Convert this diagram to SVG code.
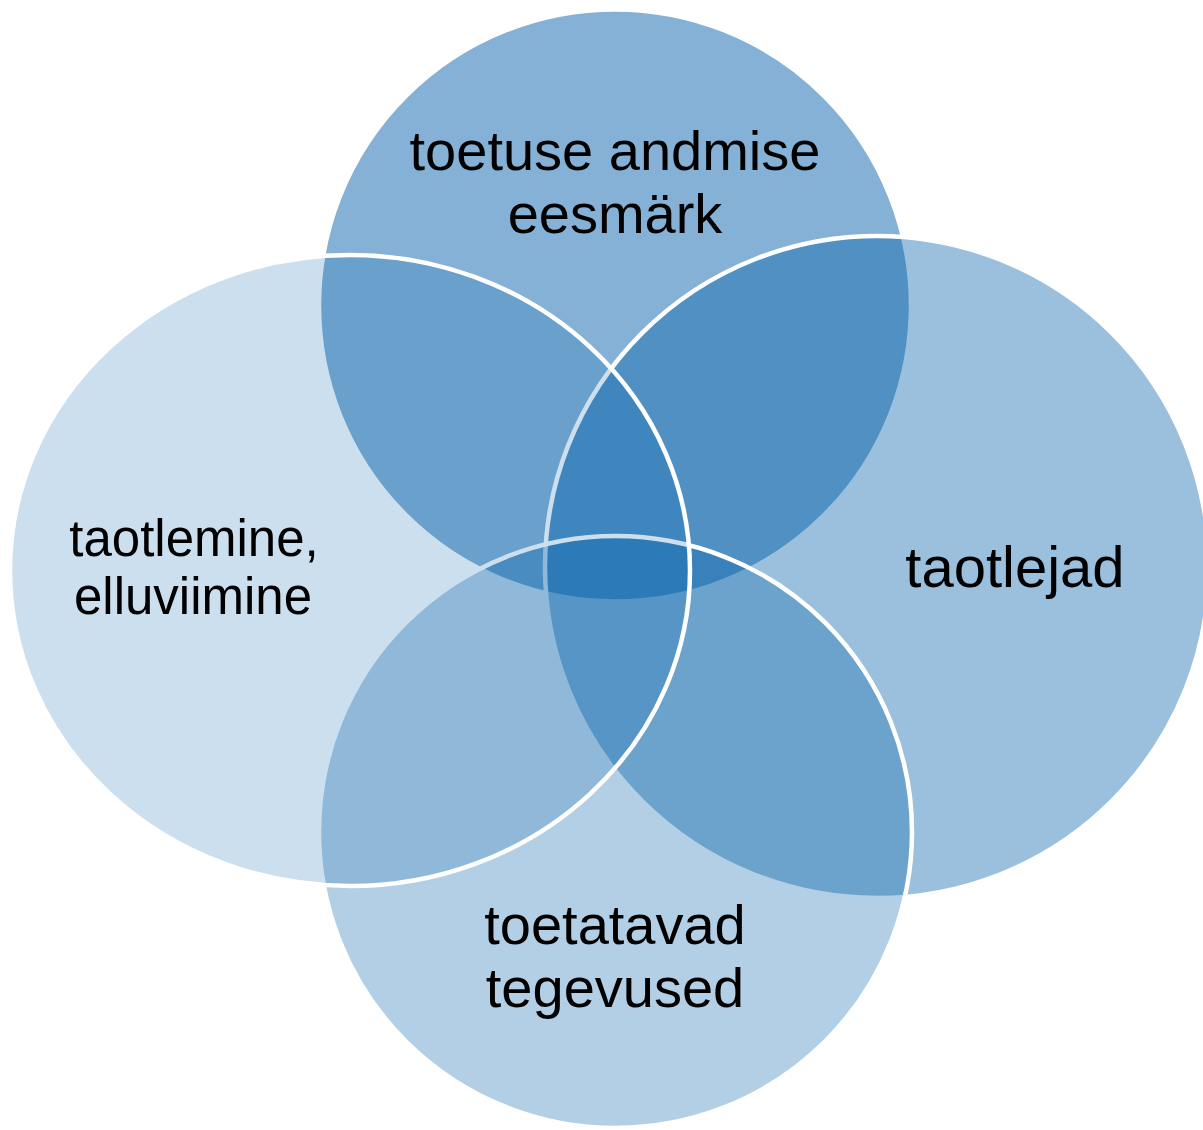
<svg xmlns="http://www.w3.org/2000/svg" width="1203" height="1130" viewBox="0 0 1203 1130">
<style>
.shape{stroke:#ffffff;stroke-width:4.5}
.lbl{font-family:"Liberation Sans",Arial,sans-serif;fill:#000000;text-anchor:middle}
</style>
<rect x="0" y="0" width="1203" height="1130" fill="#ffffff"/>
<g id="connectors"></g>
<g id="node-top">
<ellipse class="shape" cx="615" cy="305.5" rx="296" ry="296" fill="rgb(0,94,168)" fill-opacity="0.482"/>
<text class="lbl" font-size="56" x="615" y="170">toetuse andmise</text>
<text class="lbl" font-size="56" x="615" y="233">eesmärk</text>
</g>
<g id="node-right">
<ellipse class="shape" cx="877" cy="567" rx="332" ry="331" fill="rgb(0,94,168)" fill-opacity="0.392"/>
<text class="lbl" font-size="58" x="1015" y="587">taotlejad</text>
</g>
<g id="node-bottom">
<ellipse class="shape" cx="615.5" cy="832" rx="296.5" ry="296" fill="rgb(0,94,168)" fill-opacity="0.298"/>
<text class="lbl" font-size="56" x="615" y="944">toetatavad</text>
<text class="lbl" font-size="56" x="615" y="1007">tegevused</text>
</g>
<g id="node-left">
<ellipse class="shape" cx="350" cy="570.5" rx="340" ry="315.5" fill="rgb(0,94,168)" fill-opacity="0.2"/>
<text class="lbl" font-size="51" x="194" y="556">taotlemine,</text>
<text class="lbl" font-size="51" x="193" y="614">elluviimine</text>
</g>
</svg>
